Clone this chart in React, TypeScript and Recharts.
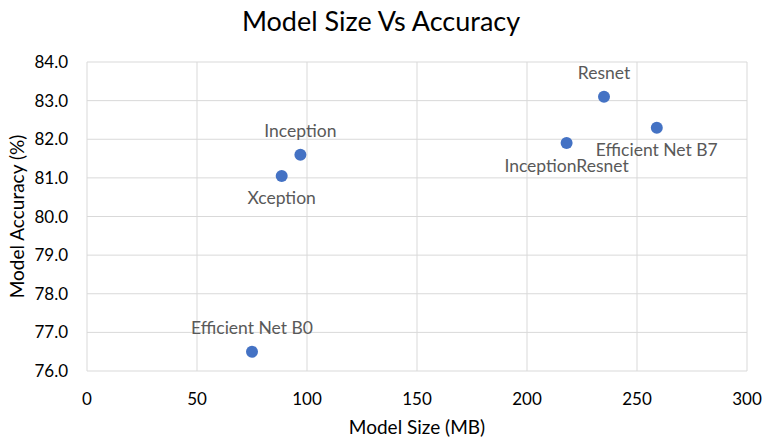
import React from 'react';
import { ScatterChart, Scatter, XAxis, YAxis, CartesianGrid, LabelList, Label } from 'recharts';

const modelNames = ['Efficient Net B0', 'Xception', 'Inception', 'InceptionResnet', 'Resnet', 'Efficient Net B7'];
const modelSizes = [75, 88.5, 97, 218, 235, 259];
const modelAccuracy = [76.5, 81.05, 81.6, 81.9, 83.1, 82.3];
const labelSides = ['top', 'bottom', 'top', 'bottom', 'top', 'bottom'];

const xTicks = [0, 50, 100, 150, 200, 250, 300];
const yTicks = [76, 77, 78, 79, 80, 81, 82, 83, 84];

const FONT = 'Lato, "Noto Sans", sans-serif';

const data = modelNames.map((name, i) => ({
  name,
  size: modelSizes[i],
  acc: modelAccuracy[i],
  side: labelSides[i],
}));

const PointLabel = (props: any) => {
  const { x, y, width, height, index } = props;
  const cx = x + width / 2;
  const cy = y + height / 2;
  const below = data[index].side === 'bottom';
  return (
    <text
      x={cx}
      y={below ? cy + 22 : cy - 24}
      textAnchor="middle"
      dominantBaseline="central"
      fill="#595959"
      fontSize={17.5}
      fontFamily={FONT}
    >
      {data[index].name}
    </text>
  );
};

const YTitle = (props: any) => {
  const { viewBox } = props;
  const cx = viewBox.x + 16;
  const cy = viewBox.y + viewBox.height / 2;
  return (
    <text
      x={cx}
      y={cy}
      transform={`rotate(-90, ${cx}, ${cy})`}
      textAnchor="middle"
      dominantBaseline="central"
      fill="#000"
      fontSize={19}
      fontFamily={FONT}
    >
      Model Accuracy (%)
    </text>
  );
};

export default function App() {
  return (
    <div style={{ position: 'absolute', left: 0, top: 0, width: 762, height: 442, background: '#fff' }}>
      <div
        style={{
          position: 'absolute',
          top: 4,
          left: 0,
          width: 762,
          textAlign: 'center',
          fontFamily: FONT,
          fontSize: 27,
          color: '#000',
        }}
      >
        Model Size Vs Accuracy
      </div>
      <ScatterChart width={762} height={442} margin={{ top: 62, right: 15, bottom: 0, left: 0 }}>
        <CartesianGrid stroke="#d9d9d9" strokeWidth={1} />
        <XAxis
          type="number"
          dataKey="size"
          domain={[0, 300]}
          ticks={xTicks}
          axisLine={false}
          tickLine={false}
          tickMargin={16}
          height={71}
          tick={{ fill: '#000', fontSize: 17, fontFamily: FONT }}
        >
          <Label value="Model Size (MB)" position="insideBottom" offset={8} fill="#000" fontSize={19} fontFamily={FONT} />
        </XAxis>
        <YAxis
          type="number"
          dataKey="acc"
          domain={[76, 84]}
          ticks={yTicks}
          axisLine={false}
          tickLine={false}
          tickMargin={13}
          width={87}
          tickFormatter={(v: number) => v.toFixed(1)}
          tick={{ fill: '#000', fontSize: 17, fontFamily: FONT }}
        >
          <Label content={<YTitle />} />
        </YAxis>
        <Scatter
          data={data}
          fill="#4472C4"
          isAnimationActive={false}
          shape={(p: any) => <circle cx={p.cx} cy={p.cy} r={6} fill="#4472C4" />}
        >
          <LabelList dataKey="name" content={<PointLabel />} />
        </Scatter>
      </ScatterChart>
    </div>
  );
}
